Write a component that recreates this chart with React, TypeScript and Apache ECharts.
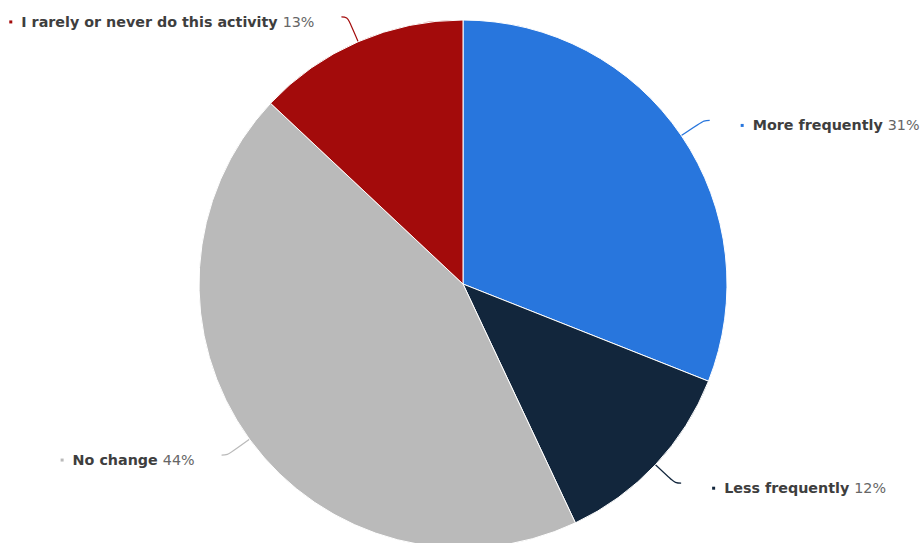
import React, { useEffect, useRef } from "react";
import * as echarts from "echarts";

const categories = ["More frequently", "Less frequently", "No change", "I rarely or never do this activity"];
const values = [31, 12, 44, 13];
const colors = ["#2876dd", "#12263c", "#bababa", "#a30b0b"];

export default function App() {
  const ref = useRef<HTMLDivElement>(null);
  useEffect(() => {
    document.body.style.margin = "0";
    const chart = echarts.init(ref.current!, null, { renderer: "svg" });
    const rich: any = {
      b: { fontFamily: "DejaVu Sans", fontWeight: "bold", fontSize: 14.3, color: "#3e3e3e" },
      v: { fontFamily: "DejaVu Sans", fontWeight: "normal", fontSize: 14.3, color: "#666" },
      g1: { width: 9, height: 3 },
      g2: { width: 5, height: 3 },
    };
    colors.forEach((c, i) => {
      rich["dot" + i] = { width: 3, height: 3, backgroundColor: c };
    });
    chart.setOption({
      animation: false,
      series: [
        {
          type: "pie",
          center: [463, 284],
          radius: [0, 264],
          startAngle: 90,
          clockwise: true,
          itemStyle: { borderColor: "#fff", borderWidth: 1 },
          label: {
            show: true,
            position: "outer",
            distanceToLabelLine: 31,
            width: 400,
            overflow: "none",
            padding: [10, 0, 0, 0],
            formatter: (p: any) => `{dot${p.dataIndex}|}{g1|}{b|${p.name}}{g2|}{v|${p.value}%}`,
            rich,
          },
          labelLine: { show: true, length: 27, length2: 6, smooth: 0.4, lineStyle: { width: 1.2 } },
          data: categories.map((name, i) => ({
            name,
            value: values[i],
            itemStyle: { color: colors[i] },
            label: { distanceToLabelLine: i >= 2 ? 27 : 31 },
          })),
        },
      ],
    });
    return () => chart.dispose();
  }, []);
  return <div ref={ref} style={{ width: 923, height: 543 }} />;
}
